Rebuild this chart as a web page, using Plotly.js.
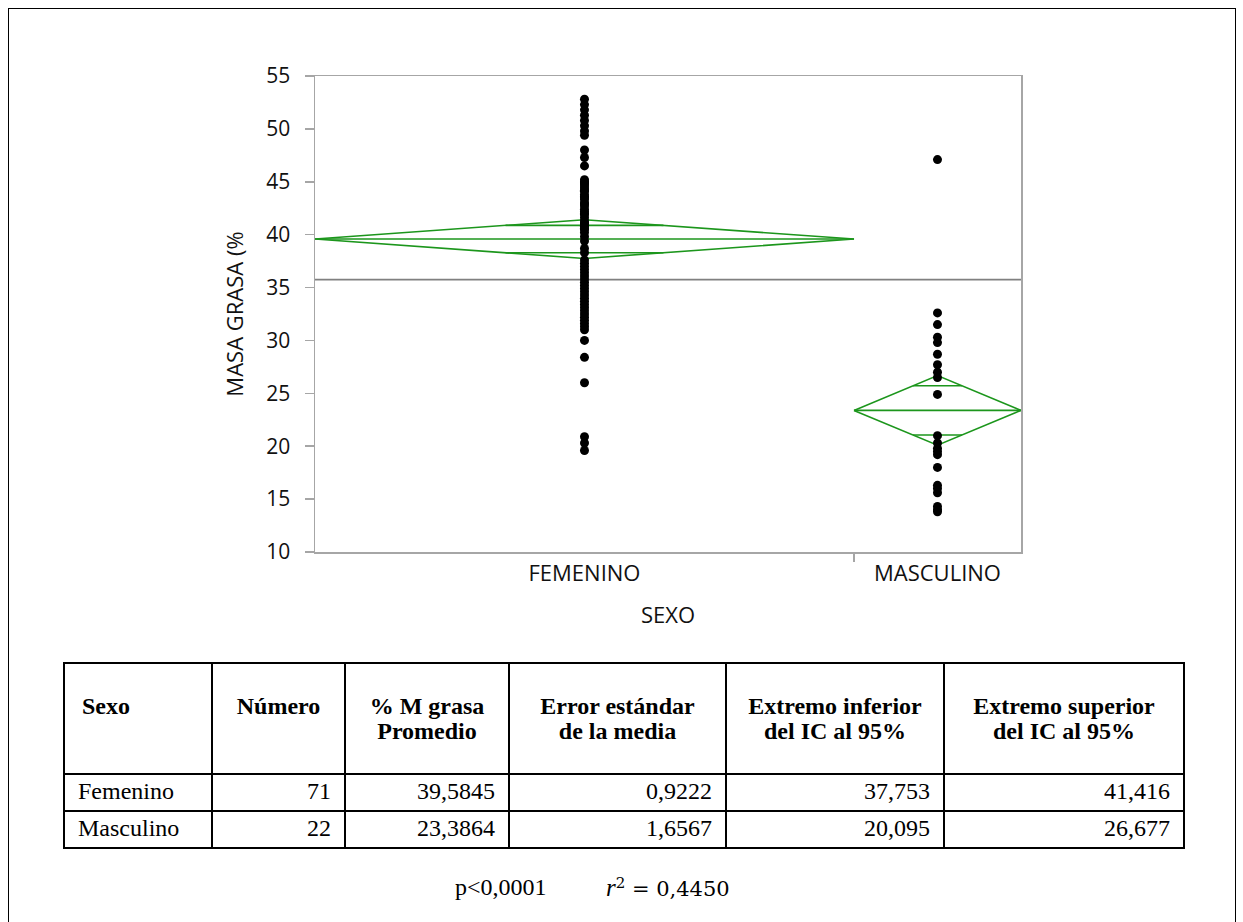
<!DOCTYPE html>
<html>
<head>
<meta charset="utf-8">
<script src="https://cdn.plot.ly/plotly-3.0.1.min.js"></script>
<style>
  html, body { margin:0; padding:0; background:#fff; }
  #wrap { position:relative; width:1243px; height:922px; overflow:hidden; background:#fff; }
  #chart { position:absolute; left:0; top:0; width:1243px; height:922px; }
  #frame { position:absolute; left:8px; top:8px; width:1226px; height:940px; border:1px solid #000; pointer-events:none; }
  #stats { position:absolute; left:63px; top:662px; border-collapse:collapse; table-layout:fixed;
           font-family:"Liberation Serif","Times New Roman",serif; font-size:24px; color:#000; }
  #stats td, #stats th { border:2px solid #000; padding:0 12px; }
  #stats th { height:111px; vertical-align:top; padding-top:30px; line-height:25px; font-weight:bold; text-align:center; box-sizing:border-box; white-space:nowrap; }
  #stats th.first { text-align:left; padding-left:17px; }
  #stats td { height:37px; text-align:right; line-height:22px; padding-right:13px; padding-bottom:4px; box-sizing:border-box; }
  #stats td.first { text-align:left; padding-left:13px; }
  #foot { position:absolute; top:874px; left:455px; width:400px; height:30px; font-family:"Liberation Serif","Times New Roman",serif; font-size:24px; white-space:nowrap; }
  #foot .p { position:absolute; left:0; top:0; }
  #foot .r2 { position:absolute; left:151px; top:0; font-family:"DejaVu Serif","Liberation Serif",serif; font-size:21px; }
  #foot .r2 i { font-family:"Liberation Serif",serif; font-size:25px; }
</style>
</head>
<body>
<div id="wrap">
  <div id="chart"></div>
  <table id="stats"></table>
  <div id="foot"></div>
  <div id="frame"></div>
</div>
<script>
// ---- data ----
const categories = ['FEMENINO', 'MASCULINO'];
const tableSexo = ['Femenino', 'Masculino'];
const counts = [71, 22];
const means = [39.5845, 23.3864];
const stdErrors = [0.9222, 1.6567];
const ciLower = [37.753, 20.095];
const ciUpper = [41.416, 26.677];
const femeninoValues = [
  52.8, 52.3, 51.8, 51.3, 50.8, 50.3, 49.8, 49.4, 48.0, 47.3, 46.5,
  45.2, 45.0, 44.9, 44.8, 44.6, 44.4, 44.2, 44.1, 43.8, 43.6, 43.5, 43.3, 43.0, 42.9, 42.7,
  42.4, 42.2, 42.0, 41.9, 41.6, 41.3, 41.1, 41.0, 40.8, 40.6, 40.5, 40.2,
  39.8, 39.4, 38.7, 38.3,
  37.6, 37.3, 37.0, 36.7, 36.4, 36.1, 35.8, 35.5, 35.2, 34.9, 34.6, 34.3, 34.0,
  33.7, 33.4, 33.1, 32.8, 32.5, 32.2, 31.9, 31.6, 31.3, 31.0,
  30.0, 28.4, 26.0, 20.9, 20.3, 19.6
];
const masculinoValues = [
  47.1, 32.6, 31.5, 30.3, 29.8, 28.7, 27.7, 27.0, 26.5, 24.9,
  21.0, 20.3, 19.8, 19.5, 19.2, 18.0, 16.3, 16.0, 15.6, 14.3, 14.0, 13.8
];
const yTicks = [10, 15, 20, 25, 30, 35, 40, 45, 50, 55];
const yTitle = 'MASA GRASA (%';
const xTitle = 'SEXO';
const tableHeaders = ['Sexo', 'Número', '% M grasa<br>Promedio', 'Error estándar<br>de la media', 'Extremo inferior<br>del IC al 95%', 'Extremo superior<br>del IC al 95%'];
const pText = 'p<0,0001';
const r2Value = '0,4450';

// ---- derived geometry from counts ----
const total = counts.reduce((a, b) => a + b, 0);
const starts = [], ends = [], centers = [];
let acc = 0;
counts.forEach(n => { starts.push(acc); ends.push(acc + n); centers.push(acc + n / 2); acc += n; });
const grandMean = counts.reduce((s, n, i) => s + n * means[i], 0) / total;

const GREEN = 'rgb(28,150,28)';
const traces = [];

// grand mean line
traces.push({ x: [0, total], y: [grandMean, grandMean], mode: 'lines', type: 'scatter',
  line: { color: 'rgb(128,128,128)', width: 1.6 }, hoverinfo: 'skip', showlegend: false });

// means diamonds
categories.forEach((c, i) => {
  const s = starts[i], e = ends[i], m = means[i], cx = centers[i];
  const up = ciUpper[i], lo = ciLower[i];
  traces.push({ x: [s, cx, e, cx, s], y: [m, up, m, lo, m], mode: 'lines', type: 'scatter',
    line: { color: GREEN, width: 1.6 }, hoverinfo: 'skip', showlegend: false });
  traces.push({ x: [s, e], y: [m, m], mode: 'lines', type: 'scatter',
    line: { color: GREEN, width: 1.6 }, hoverinfo: 'skip', showlegend: false });
  const hu = (up - m) / Math.SQRT2, hl = (m - lo) / Math.SQRT2;
  const fu = 1 - hu / (up - m), fl = 1 - hl / (m - lo);
  const half = (e - s) / 2;
  traces.push({ x: [cx - fu * half, cx + fu * half, null, cx - fl * half, cx + fl * half],
    y: [m + hu, m + hu, null, m - hl, m - hl], mode: 'lines', type: 'scatter',
    line: { color: GREEN, width: 1.6 }, hoverinfo: 'skip', showlegend: false });
});

// points
const groups = [femeninoValues, masculinoValues];
groups.forEach((vals, i) => {
  traces.push({ x: vals.map(() => centers[i]), y: vals, mode: 'markers', type: 'scatter',
    marker: { color: '#000', size: 9 }, showlegend: false, name: categories[i] });
});

// dummy trace for secondary x axis (boundary tick)
traces.push({ x: [0, total], y: [null, null], xaxis: 'x2', yaxis: 'y', mode: 'markers', showlegend: false, hoverinfo: 'skip' });

const FONT = '"Open Sans", "Noto Sans", sans-serif';
const AXC = 'rgb(166,166,166)';
const layout = {
  width: 1243, height: 922,
  margin: { l: 315, r: 222, t: 76, b: 370 },
  paper_bgcolor: 'rgba(0,0,0,0)', plot_bgcolor: '#fff',
  font: { family: FONT, size: 21, color: '#000' },
  showlegend: false,
  xaxis: {
    range: [0, total], showgrid: false, zeroline: false,
    showline: true, linecolor: AXC, linewidth: 1.5, mirror: true,
    tickvals: centers, ticktext: categories, ticks: '', ticklabelstandoff: 1,
    tickfont: { family: FONT, size: 22, color: '#111' },
    title: { text: xTitle, font: { family: FONT, size: 22, color: '#111' }, standoff: 21 }
  },
  xaxis2: {
    range: [0, total], overlaying: 'x', side: 'bottom', anchor: 'y',
    tickvals: ends.slice(0, -1), showticklabels: false, ticks: 'outside', ticklen: 9,
    tickcolor: AXC, tickwidth: 1.5, showline: false, showgrid: false, zeroline: false
  },
  yaxis: {
    range: [10, 55], tickvals: yTicks, showgrid: false, zeroline: false,
    showline: true, linecolor: AXC, linewidth: 1.5, mirror: true,
    ticks: 'outside', ticklen: 9, tickcolor: AXC, tickwidth: 1.5, ticklabelstandoff: 10,
    tickfont: { family: FONT, size: 21, color: '#111' },
    title: { text: yTitle, font: { family: FONT, size: 22, color: '#111' }, standoff: 16 }
  }
};

Plotly.newPlot('chart', traces, layout, { staticPlot: true, displayModeBar: false });

// ---- table ----
const colWidths = [148, 133, 164, 217, 218, 240];
const fmt = (v, d) => v.toFixed(d).replace('.', ',');
const tbl = document.getElementById('stats');
let html = '<colgroup>' + colWidths.map(w => '<col style="width:' + w + 'px">').join('') + '</colgroup>';
html += '<tr>' + tableHeaders.map((h, j) => '<th class="' + (j === 0 ? 'first' : '') + '">' + h + '</th>').join('') + '</tr>';
tableSexo.forEach((s, i) => {
  html += '<tr><td class="first">' + s + '</td><td>' + counts[i] + '</td><td>' + fmt(means[i], 4) +
    '</td><td>' + fmt(stdErrors[i], 4) + '</td><td>' + fmt(ciLower[i], 3) + '</td><td>' + fmt(ciUpper[i], 3) + '</td></tr>';
});
tbl.innerHTML = html;
tbl.style.width = colWidths.reduce((a, b) => a + b, 0) + 'px';

document.getElementById('foot').innerHTML = '<span class="p">' + pText.replace('<', '&lt;') + '</span>' +
  '<span class="r2"><i>r</i><sup style="font-size:15px">2</sup> = ' + r2Value + '</span>';
</script>
</body>
</html>
